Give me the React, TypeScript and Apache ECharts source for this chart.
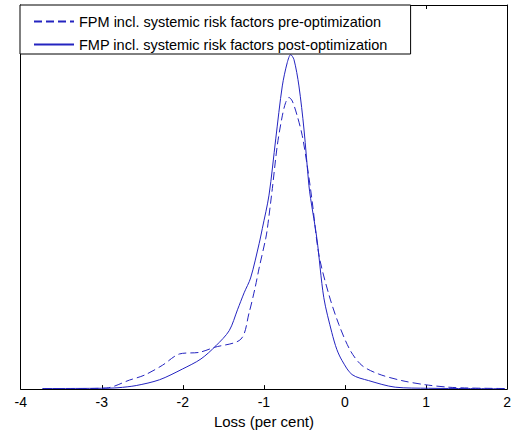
import React, { useEffect, useRef } from "react";
import * as echarts from "echarts";

const seriesNames = [
  "FPM incl. systemic risk factors pre-optimization",
  "FMP incl. systemic risk factors post-optimization",
];

const xTicks = [-4, -3, -2, -1, 0, 1, 2];

// pre-optimization (dashed)
const preX = [
  -3.73, -3.3, -2.943, -2.657, -2.473, -2.251, -2.043, -1.797, -1.612, -1.284,
  -1.182, -1.109, -1.059, -0.977, -0.957, -0.896, -0.835, -0.773, -0.731, -0.691,
  -0.65, -0.589, -0.527, -0.466, -0.404, -0.322, -0.199, -0.076, 0.067, 0.21,
  0.415, 0.701, 0.989, 1.275, 1.521, 2.0,
];
const preY = [
  0.002, 0.002, 0.004, 0.033, 0.051, 0.087, 0.128, 0.134, 0.152, 0.182,
  0.279, 0.369, 0.441, 0.55, 0.586, 0.731, 0.888, 0.996, 1.045, 1.063,
  1.05, 0.996, 0.924, 0.815, 0.683, 0.49, 0.345, 0.236, 0.14, 0.086,
  0.055, 0.031, 0.016, 0.007, 0.004, 0.002,
];

// post-optimization (solid)
const postX = [
  -3.73, -3.0, -2.8, -2.575, -2.288, -2.006, -1.776, -1.592, -1.428, -1.326,
  -1.244, -1.164, -1.059, -1.019, -0.937, -0.854, -0.773, -0.712, -0.67, -0.629,
  -0.568, -0.506, -0.445, -0.424, -0.347, -0.261, -0.162, -0.101, -0.036, 0.087,
  0.292, 0.62, 1.03, 1.52, 1.97,
];
const postY = [
  0.002, 0.003, 0.005, 0.013, 0.034, 0.073, 0.11, 0.158, 0.213, 0.289,
  0.351, 0.405, 0.53, 0.586, 0.707, 0.912, 1.105, 1.19, 1.219, 1.201,
  1.105, 0.948, 0.743, 0.695, 0.55, 0.333, 0.206, 0.145, 0.104, 0.053,
  0.031, 0.007, 0.003, 0.002, 0.001,
];

const FONT = "'Liberation Sans', Arial, sans-serif";
const LINE_COLOR = "#2424c0";

export default function App() {
  const ref = useRef<HTMLDivElement>(null);
  useEffect(() => {
    if (!ref.current) return;
    const chart = echarts.init(ref.current, undefined, { renderer: "svg" });
    const pre = preX.map((x, i) => [x, preY[i]]);
    const post = postX.map((x, i) => [x, postY[i]]);
    const frameY = {
      type: "value",
      min: 0,
      max: 1.4,
      axisLine: { show: true, onZero: false, lineStyle: { color: "#000", width: 1 } },
      axisTick: { show: false },
      axisLabel: { show: false },
      splitLine: { show: false },
    };
    chart.setOption({
      animation: false,
      backgroundColor: "#fff",
      textStyle: { fontFamily: FONT },
      grid: { left: 20.7, right: 5, top: 5, bottom: 42 },
      legend: {
        orient: "vertical",
        left: 20,
        top: 5,
        padding: [9, 23, 2, 13],
        itemGap: 8,
        itemWidth: 40,
        itemHeight: 14,
        backgroundColor: "#fff",
        borderColor: "#000",
        borderWidth: 1,
        borderRadius: 0,
        itemStyle: { opacity: 0, borderWidth: 0 },
        textStyle: { fontFamily: FONT, fontSize: 14.5, color: "#000" },
        data: seriesNames,
      },
      xAxis: [
        {
          type: "value",
          min: xTicks[0],
          max: xTicks[xTicks.length - 1],
          interval: 1,
          position: "bottom",
          name: "Loss (per cent)",
          nameLocation: "middle",
          nameGap: 21,
          nameTextStyle: { fontFamily: FONT, fontSize: 15, color: "#000" },
          axisLine: { onZero: false, lineStyle: { color: "#000", width: 1 } },
          axisTick: { inside: true, length: 4, lineStyle: { color: "#000" } },
          axisLabel: { fontFamily: FONT, fontSize: 14, color: "#000", margin: 6 },
          splitLine: { show: false },
        },
        {
          type: "value",
          min: xTicks[0],
          max: xTicks[xTicks.length - 1],
          interval: 1,
          position: "top",
          axisLine: { onZero: false, lineStyle: { color: "#000", width: 1 } },
          axisTick: { inside: true, length: 4, lineStyle: { color: "#000" } },
          axisLabel: { show: false },
          splitLine: { show: false },
        },
      ],
      yAxis: [
        { ...frameY, position: "left" },
        { ...frameY, position: "right" },
      ],
      series: [
        {
          name: seriesNames[0],
          type: "line",
          data: pre,
          symbol: "none",
          smooth: 0.3,
          lineStyle: { color: LINE_COLOR, width: 1, type: [8, 4] },
          itemStyle: { color: LINE_COLOR },
        },
        {
          name: seriesNames[1],
          type: "line",
          data: post,
          symbol: "none",
          smooth: 0.3,
          lineStyle: { color: LINE_COLOR, width: 1, type: "solid" },
          itemStyle: { color: LINE_COLOR },
        },
      ],
    });
    return () => chart.dispose();
  }, []);
  return <div ref={ref} style={{ width: 514, height: 434, position: "absolute", left: 0, top: 0 }} />;
}
